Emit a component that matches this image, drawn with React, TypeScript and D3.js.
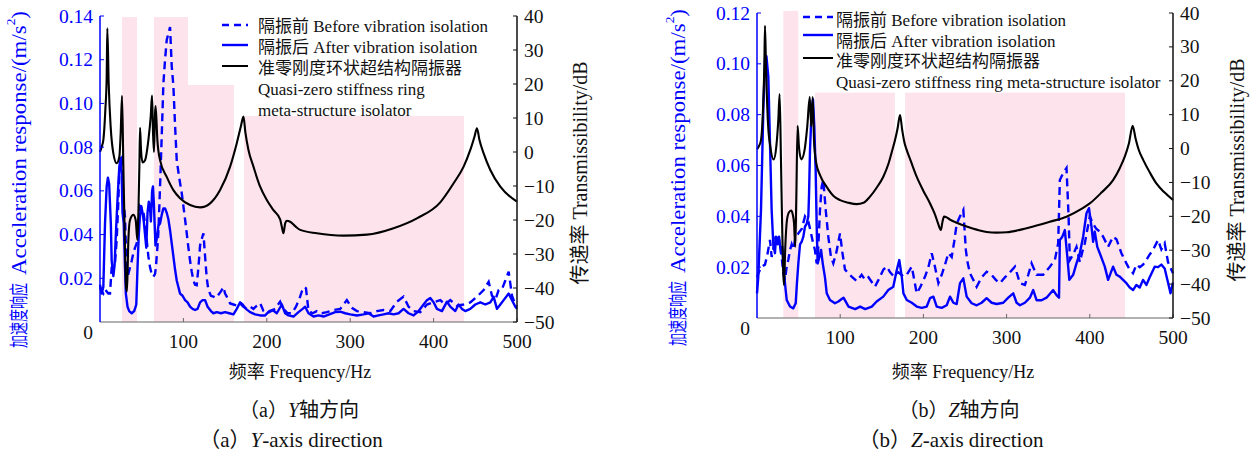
import React from "react";
import * as d3 from "d3";

type P = [number, number];

const freqTicks = [100, 200, 300, 400, 500];
const accelTicksY = [0.02, 0.04, 0.06, 0.08, 0.1, 0.12, 0.14];
const accelTicksZ = [0.02, 0.04, 0.06, 0.08, 0.1, 0.12];
const dbTicks = [-50, -40, -30, -20, -10, 0, 10, 20, 30, 40];

const legendTexts = [
  "隔振前 Before vibration isolation",
  "隔振后 After vibration isolation",
  "准零刚度环状超结构隔振器",
];

// Y-axis direction: [Hz, m/s^2]
const yAfter: P[] = [
  [0, 0.017], [2, 0.013], [4, 0.016], [6, 0.045], [8, 0.062], [9.5, 0.066], [11, 0.063], [13, 0.045],
  [14, 0.028], [16, 0.021], [17.5, 0.026], [19, 0.04], [21, 0.056], [23, 0.07], [24.5, 0.075], [26, 0.068],
  [27, 0.05], [28.5, 0.045], [30, 0.025], [31, 0.013], [33, 0.007], [35, 0.005], [38, 0.004], [41, 0.005],
  [43.5, 0.008], [45, 0.025], [46.5, 0.04], [48, 0.049], [49.5, 0.053], [51, 0.05], [52.5, 0.046], [54, 0.04],
  [55.5, 0.034], [57, 0.05], [58.5, 0.055], [60, 0.052], [61, 0.046], [62.5, 0.06], [63.5, 0.062], [64.5, 0.055],
  [65.5, 0.045], [66.5, 0.035], [68, 0.038], [70, 0.044], [72, 0.045], [74, 0.049], [76, 0.052], [78, 0.052],
  [80, 0.05], [82, 0.047], [84, 0.042], [86, 0.036], [88, 0.03], [90, 0.024], [92, 0.019], [94, 0.016],
  [96, 0.013], [99, 0.012], [102, 0.01], [105, 0.009], [108, 0.007], [111, 0.006], [114, 0.0055], [117, 0.006],
  [120, 0.009], [123, 0.01], [126, 0.01], [129, 0.007], [133, 0.005], [136, 0.004], [140, 0.0045], [145, 0.004],
  [150, 0.0045], [155, 0.004], [160, 0.0035], [164, 0.006], [168, 0.009], [171, 0.008], [175, 0.006], [180, 0.0045],
  [186, 0.0035], [192, 0.003], [198, 0.003], [203, 0.005], [207, 0.0055], [212, 0.004], [218, 0.008], [222, 0.004],
  [226, 0.003], [232, 0.0025], [238, 0.0045], [243, 0.006], [246, 0.007], [250, 0.004], [256, 0.0025], [262, 0.003],
  [268, 0.0025], [275, 0.0035], [282, 0.0045], [288, 0.0047], [294, 0.004], [300, 0.0035], [308, 0.003], [316, 0.0035],
  [322, 0.004], [328, 0.0025], [334, 0.003], [340, 0.0035], [346, 0.004], [352, 0.0035], [358, 0.004], [364, 0.006],
  [370, 0.004], [376, 0.003], [382, 0.005], [388, 0.008], [392, 0.01], [396, 0.011], [400, 0.009], [404, 0.006],
  [410, 0.005], [416, 0.0093], [420, 0.007], [426, 0.005], [430, 0.008], [434, 0.006], [438, 0.005], [444, 0.006],
  [450, 0.008], [456, 0.009], [462, 0.008], [468, 0.009], [472, 0.0115], [476, 0.006], [480, 0.008], [484, 0.01],
  [488, 0.012], [490, 0.013], [494, 0.01], [498, 0.007], [500, 0.006],
];

const yBefore: P[] = [
  [0, 0.016], [2, 0.014], [4, 0.013], [6, 0.015], [8, 0.014], [10, 0.013], [12, 0.013], [14, 0.025],
  [16, 0.026], [18, 0.027], [20, 0.0375], [22, 0.055], [23, 0.068], [24.5, 0.074], [26, 0.075], [27, 0.065],
  [28, 0.056], [30, 0.048], [31, 0.035], [32, 0.022], [34, 0.022], [36, 0.025], [38, 0.028], [40, 0.0315],
  [42, 0.034], [44, 0.036], [46, 0.045], [48, 0.053], [50, 0.052], [52, 0.0505], [54, 0.045], [56, 0.0375],
  [58, 0.03], [60, 0.025], [62, 0.022], [64, 0.0207], [66, 0.022], [67, 0.025], [69, 0.035], [70, 0.041],
  [72, 0.062], [74, 0.085], [76, 0.109], [78, 0.12], [80, 0.129], [82, 0.132], [84, 0.135], [86, 0.117],
  [88, 0.108], [90, 0.09], [92, 0.074], [95, 0.066], [98, 0.059], [100, 0.053], [102, 0.047], [104, 0.0406],
  [106, 0.034], [108, 0.028], [110, 0.023], [112, 0.019], [114, 0.017], [116, 0.0168], [118, 0.025], [120, 0.035],
  [122, 0.038], [124, 0.0406], [126, 0.03], [128, 0.02], [130, 0.0146], [133, 0.012], [136, 0.0116], [139, 0.011],
  [142, 0.0125], [145, 0.014], [148, 0.016], [150, 0.013], [152, 0.0116], [156, 0.0085], [160, 0.008], [164, 0.0075],
  [168, 0.0085], [172, 0.007], [176, 0.006], [180, 0.007], [184, 0.006], [188, 0.0075], [192, 0.0086], [196, 0.005],
  [200, 0.004], [205, 0.005], [210, 0.006], [216, 0.0093], [220, 0.006], [225, 0.004], [230, 0.004], [235, 0.007],
  [240, 0.0116], [242, 0.014], [245, 0.016], [247, 0.0154], [250, 0.005], [255, 0.004], [260, 0.005], [266, 0.004],
  [272, 0.0045], [280, 0.0055], [288, 0.006], [296, 0.01], [302, 0.0065], [308, 0.005], [316, 0.0045], [324, 0.004],
  [332, 0.005], [340, 0.0055], [348, 0.005], [356, 0.0093], [364, 0.0116], [370, 0.007], [376, 0.005], [384, 0.0045],
  [392, 0.008], [400, 0.009], [408, 0.01], [414, 0.008], [420, 0.01], [428, 0.0075], [436, 0.008], [444, 0.009],
  [452, 0.0116], [460, 0.0146], [466, 0.0184], [470, 0.012], [474, 0.01], [478, 0.0146], [482, 0.015], [486, 0.019],
  [490, 0.023], [494, 0.012], [498, 0.008], [500, 0.007],
];

// [Hz, dB]
const yTrans: P[] = [
  [0, 0], [2, 1.5], [4, 3.5], [6.4, 12.4], [8, 22], [8.8, 36.4], [10.4, 20.3], [12.8, 7.4], [16, -0.4],
  [20, -3.3], [23.2, -1.4], [24.8, 5.6], [26.4, 16.5], [28, -4.3], [29.6, -23.9], [31.2, -39.6], [32.4, -41],
  [34, -25.9], [36, -20], [40, -18.5], [42.8, -20], [44.8, -25.9], [46, -18], [47.2, -4.3], [48, 7.1], [49.2, 0.6],
  [51, -3.1], [54, -2.4], [58, 3.5], [60.8, 10.4], [62.4, 16.6], [63.6, 5.6], [64.7, 0], [66, 11.4], [66.7, 13.5],
  [68.8, 3.5], [72, -2.4], [80, -7.3], [88, -11.2], [96, -13.6], [108, -15.6], [120, -16.3], [132, -15.1],
  [144, -11.2], [156, -4.3], [164, 2.6], [168.8, 7.4], [172, 10.4], [174.4, 5.6], [178, 0.6], [184, -4.3],
  [192, -10.2], [200, -14.1], [208, -17.1], [216, -19.8], [218, -22], [220, -23.9], [222, -21], [224, -20.2],
  [228, -20.5], [234, -21.8], [240, -22.9], [260, -23.9], [292, -24.6], [320, -24.3], [352, -22.4], [380, -19.5],
  [408, -14.8], [424, -9.2], [436, -4.3], [444, 0.6], [449, 4.5], [452, 7], [455, 3.5], [460, -0.4], [468, -5.3],
  [480, -10.2], [500, -14.6],
];

// Z-axis direction
const zAfter: P[] = [
  [0, 0.0097], [1.5, 0.016], [4.8, 0.0425], [7.6, 0.082], [9.6, 0.1015], [11.3, 0.103], [13.6, 0.095], [15.6, 0.069],
  [17.6, 0.0425], [19.6, 0.029], [21.6, 0.0255], [22.8, 0.032], [24.8, 0.029], [26.5, 0.032], [28.8, 0.0255],
  [30.5, 0.028], [32, 0.019], [33.6, 0.0137], [35.7, 0.0071], [39.7, 0.0045], [43.6, 0.0038], [46.5, 0.0058],
  [48, 0.0137], [49.7, 0.0215], [51.7, 0.029], [53.7, 0.03], [55.7, 0.032], [57.7, 0.036], [59.7, 0.037],
  [61.7, 0.04], [62.5, 0.048], [63.7, 0.066], [65.7, 0.082], [67.3, 0.086], [68.9, 0.075], [70.5, 0.058],
  [71.7, 0.037], [72.9, 0.0215], [75, 0.024], [77, 0.0268], [79, 0.0215], [81.7, 0.016], [83.8, 0.0097],
  [87.7, 0.0071], [93.7, 0.0058], [97.8, 0.0065], [101.8, 0.0075], [104, 0.008], [110, 0.0045], [118, 0.0035],
  [124, 0.0045], [130, 0.0035], [138, 0.0045], [143.8, 0.0065], [151.8, 0.0084], [157.8, 0.011], [163.8, 0.0123],
  [168, 0.0189], [171, 0.0228], [174, 0.0163], [176, 0.0097], [180, 0.0071], [186, 0.006], [192, 0.0045],
  [198, 0.004], [204, 0.0045], [208, 0.0078], [212, 0.0084], [216, 0.0045], [222, 0.004], [228, 0.005],
  [232, 0.0084], [236, 0.006], [240, 0.0055], [244, 0.0137], [248, 0.0156], [252, 0.0084], [258, 0.0058],
  [264, 0.005], [270, 0.006], [276, 0.0078], [282, 0.006], [288, 0.0055], [296, 0.006], [302, 0.008], [308, 0.0097],
  [312, 0.006], [316, 0.005], [322, 0.006], [328, 0.008], [332, 0.011], [336, 0.007], [342, 0.007], [348, 0.008],
  [356, 0.011], [360, 0.009], [363, 0.008], [364, 0.0307], [367, 0.032], [370, 0.0346], [373, 0.024], [375.4, 0.015],
  [380, 0.017], [384, 0.0215], [388, 0.0255], [392, 0.032], [396, 0.0412], [399, 0.0432], [402, 0.036], [404, 0.03],
  [406, 0.034], [409, 0.028], [412, 0.0255], [418, 0.0202], [422, 0.015], [428, 0.0202], [432, 0.017], [436, 0.0163],
  [440, 0.015], [444, 0.0137], [448, 0.012], [452, 0.011], [456, 0.013], [460, 0.012], [464, 0.015], [468, 0.013],
  [472, 0.016], [478, 0.0202], [482, 0.02], [486, 0.021], [490, 0.0195], [494, 0.014], [497, 0.0097], [500, 0.014],
];

const zBefore: P[] = [
  [0, 0.016], [1.6, 0.0176], [5.6, 0.0202], [9.6, 0.021], [12.5, 0.025], [15.6, 0.0307], [17.6, 0.024],
  [19.5, 0.027], [21.6, 0.032], [23.5, 0.029], [25.6, 0.032], [28.8, 0.0268], [31.6, 0.0176], [33.6, 0.015],
  [35.7, 0.0202], [37.7, 0.023], [39.7, 0.0268], [41.7, 0.029], [43.7, 0.027], [45.7, 0.0307], [49.7, 0.0333],
  [53.7, 0.035], [57.7, 0.04], [61.7, 0.038], [64.5, 0.034], [67.7, 0.029], [69.5, 0.027], [71.7, 0.0215],
  [73.5, 0.027], [75.7, 0.0425], [77.7, 0.0517], [79.7, 0.0543], [82.6, 0.0425], [85.7, 0.032], [88.9, 0.024],
  [91.7, 0.0215], [95.5, 0.026], [99.8, 0.0333], [102.5, 0.026], [105.8, 0.019], [109, 0.018], [113.8, 0.0163],
  [119.8, 0.0145], [125.8, 0.017], [130, 0.015], [134, 0.016], [141.8, 0.0123], [146, 0.015], [151.8, 0.019],
  [155.9, 0.0202], [160, 0.018], [164, 0.0165], [170, 0.018], [175.9, 0.0163], [180, 0.017], [186, 0.0202],
  [189, 0.015], [191.9, 0.0097], [196, 0.012], [202, 0.0163], [206, 0.02], [210, 0.0255], [214, 0.02], [218, 0.0137],
  [222, 0.017], [226, 0.021], [230, 0.0255], [234, 0.024], [237, 0.03], [240, 0.037], [244, 0.04], [248, 0.0425],
  [251, 0.0268], [253, 0.022], [256, 0.0176], [260, 0.015], [264, 0.0123], [270, 0.016], [276, 0.0182], [282, 0.017],
  [287, 0.015], [292, 0.0137], [298, 0.016], [304, 0.018], [310, 0.0202], [316, 0.0137], [322, 0.013], [326, 0.017],
  [330, 0.0215], [336, 0.017], [344, 0.017], [352, 0.0202], [358, 0.0228], [362, 0.0294], [364, 0.0543], [368, 0.057],
  [372, 0.059], [374.5, 0.04], [376, 0.0228], [380, 0.025], [384, 0.028], [388, 0.022], [391, 0.026], [394, 0.0294],
  [400, 0.04], [404, 0.037], [408, 0.035], [412, 0.034], [416, 0.032], [422, 0.028], [428, 0.032], [432, 0.031],
  [438, 0.0255], [444, 0.0215], [448, 0.019], [452, 0.0176], [456, 0.021], [460, 0.02], [464, 0.021], [468, 0.0228],
  [472, 0.025], [476, 0.0268], [482, 0.0307], [486, 0.027], [490, 0.0294], [494, 0.022], [498, 0.019], [500, 0.0176],
];

const zTrans: P[] = [
  [0, -0.2], [2.5, 0.8], [4.8, 2.5], [7.2, 11.4], [8.8, 24.2], [9.6, 36.2], [10.8, 24.2], [13.2, 7.5], [16, 0.6],
  [20, -3.2], [23.2, 0.6], [25.6, 8.4], [27.2, 16.1], [28.8, -3.4], [30.4, -25], [32.4, -40.3], [34, -29],
  [36, -21.1], [38.5, -18.8], [41.2, -18.3], [43, -19.5], [44.5, -22], [46, -29], [47.2, -15.2], [48.8, 6.7],
  [50.4, 0.6], [53.2, -3.2], [57.2, -0.4], [60.4, 6.5], [63.4, 15.2], [65.2, 6.5], [67, 15.2], [68.5, 2.5],
  [71.2, -4.3], [76, -8], [83.7, -11.3], [92, -14], [99.8, -15.2], [110, -16], [119.8, -16.4], [128, -16],
  [135.8, -14.2], [144, -11.5], [151.8, -8.3], [158, -4.5], [162, -1], [165.9, 2.5], [169, 6], [171.9, 9.9],
  [174.5, 5.5], [177, 2], [179.9, -0.4], [185, -3.8], [191.9, -8.3], [200, -12.5], [208, -16.2], [214, -19.5],
  [217.5, -22], [221, -24], [223, -21.5], [224.8, -20.1], [228, -20.3], [232, -21], [240, -21.9], [252, -23],
  [265, -24], [276, -24.6], [288, -24.8], [300, -24.7], [316, -24], [332, -23], [352, -21.6], [372, -20.1],
  [390, -17.8], [400, -16.2], [414, -13], [428, -9.3], [436, -5.8], [442, -2.4], [447, 1.5], [451.5, 6.7],
  [455, 3], [459, -0.5], [464.3, -3.4], [472, -7], [480, -10.3], [490, -13], [500, -15.2],
];

// isolation bands: [fromHz, toHz, top dB]
const yBands: [number, number, number][] = [[26.4, 44.4, 39.7], [64.7, 105.5, 39.7], [105.5, 160.7, 19.7], [172.7, 436.5, 10.6]];
const zBands: [number, number, number][] = [[31.6, 49.6, 40.6], [69.7, 165.9, 16.5], [177.9, 442.3, 16.5]];

const SERIF = "'Liberation Serif', 'Times New Roman', 'Noto Sans CJK SC', serif";
const BLUE = "#0000ff";
const PINK = "#fde4ec";

type PanelProps = {
  x0: number; x1: number; y0: number; y1: number;
  aMax: number; aTicks: number[];
  before: P[]; after: P[]; trans: P[]; bands: [number, number, number][];
  legX0: number; legX1: number; legTX: number; legLineY: number[]; legTextY: number[]; legExtra: string[];
  ylabLX: number; ylabLBase: number; ylabRX: number; ylabRY: number; xlabX: number; capX: number;
  letter: string; axisName: string;
};

function Panel(p: PanelProps) {
  const x = d3.scaleLinear().domain([0, 500]).range([p.x0, p.x1]);
  const ya = d3.scaleLinear().domain([0, p.aMax]).range([p.y1, p.y0]);
  const yd = d3.scaleLinear().domain([-50, 40]).range([p.y1, p.y0]);
  const lineA = d3.line<P>().x((d) => x(d[0])).y((d) => ya(d[1]));
  const lineD = d3.line<P>().x((d) => x(d[0])).y((d) => yd(d[1])).curve(d3.curveMonotoneX);
  const fmtDb = (v: number) => (v < 0 ? "\u2212" + Math.abs(v) : String(v));
  return (
    <g fontFamily={SERIF}>
      {p.bands.map((b, i) => (
        <rect key={i} x={x(b[0])} y={yd(b[2])} width={x(b[1]) - x(b[0])} height={p.y1 - yd(b[2])} fill={PINK} />
      ))}
      <path d={lineA(p.before) || ""} fill="none" stroke={BLUE} strokeWidth={2.4} strokeDasharray="8,5" />
      <path d={lineA(p.after) || ""} fill="none" stroke={BLUE} strokeWidth={2.4} strokeLinejoin="round" />
      <path d={lineD(p.trans) || ""} fill="none" stroke="#000" strokeWidth={2.1} />

      {/* bottom axis */}
      <line x1={p.x0} x2={p.x1} y1={p.y1} y2={p.y1} stroke="#666" strokeWidth={1.2} />
      {freqTicks.map((t) => (
        <g key={t}>
          <line x1={x(t)} x2={x(t)} y1={p.y1} y2={p.y1 - 4} stroke="#666" />
          <text x={x(t)} y={p.y1 + 19} textAnchor="middle" dominantBaseline="central" fontSize={19.5} fill="#111">{t}</text>
        </g>
      ))}
      <text x={p.x0 - 12} y={p.y1 + 10} textAnchor="middle" dominantBaseline="central" fontSize={19.5} fill="#111">0</text>

      {/* left axis */}
      <line x1={p.x0} x2={p.x0} y1={p.y0} y2={p.y1} stroke={BLUE} strokeWidth={1.5} />
      {p.aTicks.map((t) => (
        <g key={t}>
          <line x1={p.x0} x2={p.x0 + 4} y1={ya(t)} y2={ya(t)} stroke={BLUE} />
          <text x={p.x0 - 7} y={ya(t)} textAnchor="end" dominantBaseline="central" fontSize={19.5} fill={BLUE}>{t.toFixed(2)}</text>
        </g>
      ))}
      <text transform={`translate(${p.ylabLX},${p.ylabLBase}) rotate(-90)`} textAnchor="start" dominantBaseline="central"
        fontSize={19} fill={BLUE} textLength={65} lengthAdjust="spacingAndGlyphs">
        加速度响应
      </text>
      <text transform={`translate(${p.ylabLX},${p.ylabLBase - 73}) rotate(-90)`} textAnchor="start" dominantBaseline="central"
        fontSize={20.5} fill={BLUE} textLength={264} lengthAdjust="spacingAndGlyphs">
        Acceleration response/(m/s<tspan fontSize={12} dy={-8}>2</tspan><tspan dy={8}>)</tspan>
      </text>

      {/* right axis */}
      <line x1={p.x1} x2={p.x1} y1={p.y0} y2={p.y1} stroke="#111" strokeWidth={1.5} />
      {dbTicks.map((t) => (
        <g key={t}>
          <line x1={p.x1} x2={p.x1 - 4} y1={yd(t)} y2={yd(t)} stroke="#111" />
          <text x={p.x1 + 7} y={yd(t)} textAnchor="start" dominantBaseline="central" fontSize={19.5} fill="#111">{fmtDb(t)}</text>
        </g>
      ))}
      <text transform={`translate(${p.ylabRX},${p.ylabRY}) rotate(-90)`} textAnchor="middle" dominantBaseline="central" fontSize={20} fill="#111">
        传递率 Transmissibility/dB
      </text>

      {/* legend */}
      <line x1={p.legX0} x2={p.legX1} y1={p.legLineY[0]} y2={p.legLineY[0]} stroke={BLUE} strokeWidth={2.4} strokeDasharray="7,5" />
      <line x1={p.legX0} x2={p.legX1} y1={p.legLineY[1]} y2={p.legLineY[1]} stroke={BLUE} strokeWidth={2.4} />
      <line x1={p.legX0} x2={p.legX1} y1={p.legLineY[2]} y2={p.legLineY[2]} stroke="#000" strokeWidth={2} />
      {[...legendTexts, ...p.legExtra].map((s, i) => (
        <text key={i} x={p.legTX} y={p.legTextY[i]} dominantBaseline="central" fontSize={17} fill="#111">{s}</text>
      ))}

      {/* labels */}
      <text x={p.xlabX} y={372} textAnchor="middle" dominantBaseline="central" fontSize={18} fill="#111">频率 Frequency/Hz</text>
      <text x={p.capX} y={410} textAnchor="middle" dominantBaseline="central" fontSize={20} fill="#111">
        （{p.letter}）<tspan fontStyle="italic">{p.axisName}</tspan>轴方向
      </text>
      <text x={p.capX - 8} y={440} textAnchor="middle" dominantBaseline="central" fontSize={21} fill="#111">
        （{p.letter}）<tspan fontStyle="italic">{p.axisName}</tspan>-axis direction
      </text>
    </g>
  );
}

export default function App() {
  return (
    <svg width={1255} height={453} style={{ position: "absolute", left: 0, top: 0, background: "#fff" }}>
      <rect width={1255} height={453} fill="#fff" />
      <Panel
        x0={100} x1={517} y0={16} y1={322} aMax={0.14} aTicks={accelTicksY}
        before={yBefore} after={yAfter} trans={yTrans} bands={yBands}
        legX0={222} legX1={248} legTX={258} legLineY={[25, 45, 66]} legTextY={[26, 47, 68, 89, 110]}
        legExtra={["Quasi-zero stiffness ring", "meta-structure isolator"]}
        ylabLX={19} ylabLBase={348} ylabRX={580} ylabRY={173} xlabX={300} capX={299} letter="a" axisName="Y"
      />
      <Panel
        x0={757} x1={1173} y0={13} y1={318} aMax={0.12} aTicks={accelTicksZ}
        before={zBefore} after={zAfter} trans={zTrans} bands={zBands}
        legX0={803} legX1={833} legTX={836} legLineY={[17, 35, 58]} legTextY={[20, 41, 61, 82]}
        legExtra={["Quasi-zero stiffness ring meta-structure isolator"]}
        ylabLX={678} ylabLBase={346} ylabRX={1237} ylabRY={170} xlabX={963} capX={959} letter="b" axisName="Z"
      />
    </svg>
  );
}
